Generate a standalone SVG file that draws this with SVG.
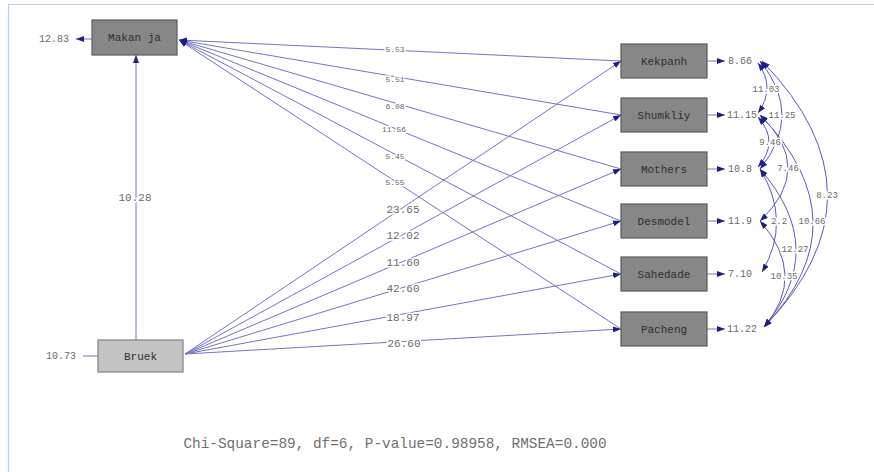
<svg xmlns="http://www.w3.org/2000/svg" width="874" height="472" viewBox="0 0 874 472">
<style>
.frame{stroke:#b9d1ee;stroke-width:1.2;fill:none}
.box{fill:#878787;stroke:#5a5a5a;stroke-width:1.2}
.box2{fill:#c4c4c4;stroke:#808080;stroke-width:1.2}
.nl{font-family:"Liberation Mono",monospace;font-size:11px;fill:#2e2e2e;text-anchor:middle}
.lbl{font-family:"Liberation Mono",monospace;fill:#6a6a6a;text-anchor:middle;paint-order:stroke;stroke:#fff;stroke-width:3px}
.c{stroke:#7474c2;stroke-width:1;fill:none}
.cv{stroke:#5a5ab4;stroke-width:1;fill:none}
</style>
<defs>
<marker id="ah" markerWidth="8" markerHeight="6" refX="8" refY="3" orient="auto" markerUnits="userSpaceOnUse">
<path d="M0,0 L8,3 L0,6 z" fill="#1c1c8c"/>
</marker>
<marker id="as" markerWidth="8" markerHeight="6" refX="0" refY="3" orient="auto" markerUnits="userSpaceOnUse">
<path d="M8,0 L0,3 L8,6 z" fill="#1c1c8c"/>
</marker>
</defs>
<rect width="874" height="472" fill="#fff"/>
<path class="frame" d="M8.5,472 V4.5 H874"/>

<g id="connectors">
<!-- Makan ja paths -->
<path class="c" d="M621,61 L179,40" marker-end="url(#ah)"/>
<path class="c" d="M621,115 L179,40" marker-end="url(#ah)"/>
<path class="c" d="M621,169 L179,40" marker-end="url(#ah)"/>
<path class="c" d="M621,221 L179,40" marker-end="url(#ah)"/>
<path class="c" d="M621,274 L179,40" marker-end="url(#ah)"/>
<path class="c" d="M621,329 L179,40" marker-end="url(#ah)"/>
<!-- Bruek paths -->
<path class="c" d="M185,354 L621,61" marker-end="url(#ah)"/>
<path class="c" d="M185,354 L621,115" marker-end="url(#ah)"/>
<path class="c" d="M185,354 L621,169" marker-end="url(#ah)"/>
<path class="c" d="M185,354 L621,221" marker-end="url(#ah)"/>
<path class="c" d="M185,354 L621,274" marker-end="url(#ah)"/>
<path class="c" d="M185,354 L621,329" marker-end="url(#ah)"/>
<path class="c" d="M136,340 L136,55" marker-end="url(#ah)"/>
<!-- error arrows -->
<path class="c" d="M92,39 L76,39" marker-end="url(#ah)"/>
<path class="c" d="M98,356 L83,356"/>
<path class="c" d="M707,61 L725,61" marker-end="url(#ah)"/>
<path class="c" d="M707,115 L725,115" marker-end="url(#ah)"/>
<path class="c" d="M707,169 L725,169" marker-end="url(#ah)"/>
<path class="c" d="M707,221 L725,221" marker-end="url(#ah)"/>
<path class="c" d="M707,274 L725,274" marker-end="url(#ah)"/>
<path class="c" d="M707,329 L725,329" marker-end="url(#ah)"/>
<!-- covariances -->
<path class="cv" d="M758,63 Q776,88 758,113" marker-start="url(#as)" marker-end="url(#ah)"/>
<path class="cv" d="M760,61 Q804,115 760,169" marker-start="url(#as)" marker-end="url(#ah)"/>
<path class="cv" d="M758,117 Q780,142 758,167" marker-start="url(#as)" marker-end="url(#ah)"/>
<path class="cv" d="M760,115 Q816,168 760,221" marker-start="url(#as)" marker-end="url(#ah)"/>
<path class="cv" d="M760,169 Q792,221 762,272" marker-start="url(#as)" marker-end="url(#ah)"/>
<path class="cv" d="M760,115 Q864,222 764,327" marker-start="url(#as)" marker-end="url(#ah)"/>
<path class="cv" d="M760,169 Q830,249 764,327" marker-start="url(#as)" marker-end="url(#ah)"/>
<path class="cv" d="M760,221 Q808,275 764,327" marker-start="url(#as)" marker-end="url(#ah)"/>
<path class="cv" d="M762,61 Q892,195 764,327" marker-start="url(#as)" marker-end="url(#ah)"/>
</g>

<g id="path-labels">
<text class="lbl" x="395" y="52" font-size="8">5.53</text>
<text class="lbl" x="395" y="82" font-size="8">5.51</text>
<text class="lbl" x="395" y="109" font-size="8">6.08</text>
<text class="lbl" x="394" y="132" font-size="8">11.56</text>
<text class="lbl" x="395" y="159" font-size="8">5.45</text>
<text class="lbl" x="395" y="185" font-size="8">5.55</text>
<text class="lbl" x="403" y="213" font-size="11">23.65</text>
<text class="lbl" x="403" y="239" font-size="11">12.02</text>
<text class="lbl" x="403" y="266" font-size="11">11.60</text>
<text class="lbl" x="403" y="292" font-size="11">42.60</text>
<text class="lbl" x="403" y="321" font-size="11">18.97</text>
<text class="lbl" x="404" y="347" font-size="11">26.60</text>
<text class="lbl" x="135" y="201" font-size="11">10.28</text>
<text class="lbl" x="54" y="42" font-size="10">12.83</text>
<text class="lbl" x="61" y="359" font-size="10">10.73</text>
</g>

<g id="error-labels">
<text class="lbl" x="740" y="64" font-size="10">8.66</text>
<text class="lbl" x="742" y="118" font-size="10">11.15</text>
<text class="lbl" x="740" y="172" font-size="10">10.8</text>
<text class="lbl" x="740" y="224" font-size="10">11.9</text>
<text class="lbl" x="740" y="277" font-size="10">7.10</text>
<text class="lbl" x="742" y="332" font-size="10">11.22</text>
<text class="lbl" x="766" y="92" font-size="9">11.03</text>
<text class="lbl" x="782" y="118" font-size="9">11.25</text>
<text class="lbl" x="770" y="145" font-size="9">9.46</text>
<text class="lbl" x="788" y="171" font-size="9">7.46</text>
<text class="lbl" x="827" y="198" font-size="9">8.23</text>
<text class="lbl" x="779" y="224" font-size="9">2.2</text>
<text class="lbl" x="812" y="224" font-size="9">10.66</text>
<text class="lbl" x="795" y="252" font-size="9">12.27</text>
<text class="lbl" x="784" y="279" font-size="9">10.35</text>
</g>

<g id="node-makanja"><rect class="box" x="92" y="20" width="85" height="35"/><text class="nl" x="134.5" y="41">Makan ja</text></g>
<g id="node-bruek"><rect class="box2" x="98" y="340" width="85" height="32"/><text class="nl" x="140.5" y="360">Bruek</text></g>
<g id="node-kekpanh"><rect class="box" x="621" y="44" width="86" height="34"/><text class="nl" x="664" y="65">Kekpanh</text></g>
<g id="node-shumkliy"><rect class="box" x="621" y="98" width="86" height="34"/><text class="nl" x="664" y="119">Shumkliy</text></g>
<g id="node-mothers"><rect class="box" x="621" y="152" width="86" height="34"/><text class="nl" x="664" y="173">Mothers</text></g>
<g id="node-desmodel"><rect class="box" x="621" y="204" width="86" height="34"/><text class="nl" x="664" y="225">Desmodel</text></g>
<g id="node-sahedade"><rect class="box" x="621" y="257" width="86" height="34"/><text class="nl" x="664" y="278">Sahedade</text></g>
<g id="node-pacheng"><rect class="box" x="621" y="312" width="86" height="34"/><text class="nl" x="664" y="333">Pacheng</text></g>

<text x="395" y="448" font-family="Liberation Mono, monospace" font-size="14.4" fill="#707070" text-anchor="middle">Chi-Square=89, df=6, P-value=0.98958, RMSEA=0.000</text>
</svg>
